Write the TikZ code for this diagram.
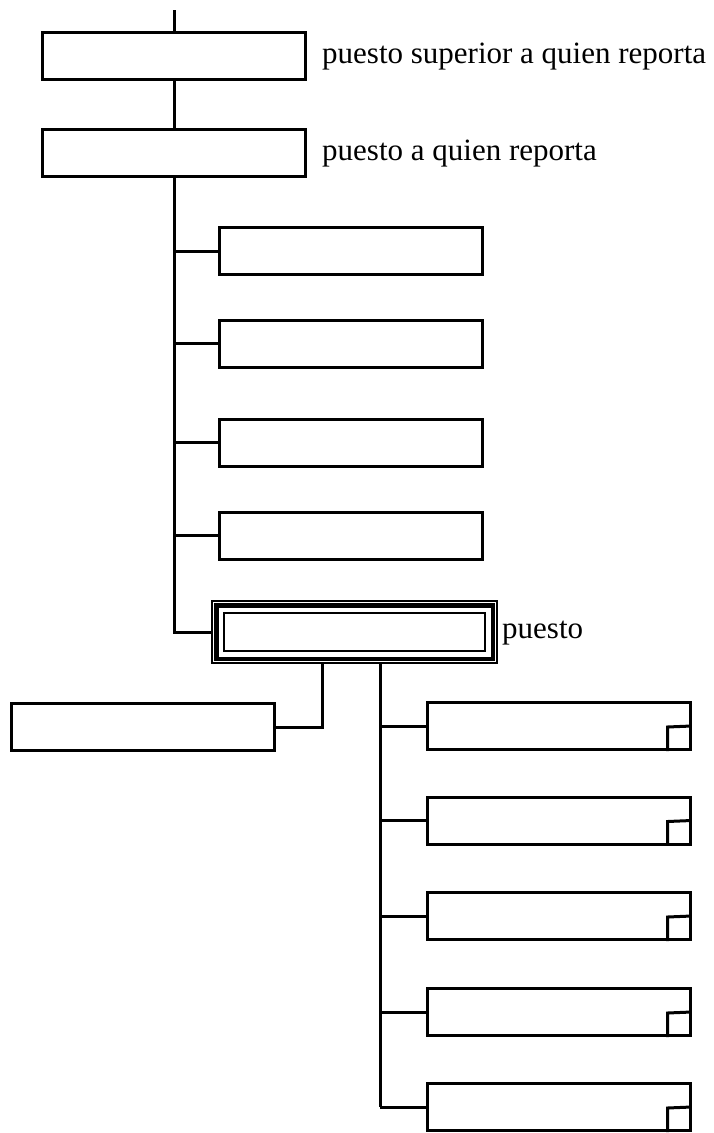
\documentclass[tikz,border=0pt]{standalone}
\usepackage{fontspec}
\setmainfont{Liberation Serif}
\tikzset{
  cargo/.style={draw, line width=3pt, minimum width=263pt, minimum height=47pt, inner sep=0pt},
  enlace/.style={line width=3pt},
  rotulo/.style={anchor=west, inner sep=0pt, font=\fontsize{31}{37}\selectfont}
}

\begin{document}
\begin{tikzpicture}[x=1pt, y=-1pt]
    \useasboundingbox (0,0) rectangle (713,1133);
    % cadena superior
    \coordinate (arriba) at (174,10);
    \node[cargo] (superior) at (174,55.5) {};
    \node[cargo] (jefe) at (174,152.5) {};
    \draw[enlace] (arriba) -- (superior.north);
    \draw[enlace] (superior.south) -- (jefe.north);
    \node[rotulo] (tsup) at (322,56.5) {puesto superior a quien reporta};
    \node[rotulo] (tjefe) at (322,153.5) {puesto a quien reporta};
    % puestos al mismo nivel
    \foreach \i/\y in {1/251, 2/343.5, 3/442.5, 4/535.5} {
        \node[cargo] (par\i) at (351,\y) {};
        \draw[enlace] (174,\y) -- (par\i.west);
    }
    % puesto descrito
    \node[draw, line width=1.5pt, minimum width=285pt, minimum height=62pt, inner sep=0pt] (puesto) at (354.5,632) {};
    \draw[line width=4.5pt] ([shift={(5pt,-5pt)}]puesto.north west) rectangle ([shift={(-5pt,5pt)}]puesto.south east);
    \draw[line width=2pt] ([shift={(12.5pt,-12.5pt)}]puesto.north west) rectangle ([shift={(-12.5pt,12.5pt)}]puesto.south east);
    \node[rotulo] (tpuesto) at (502,633) {puesto};
    \draw[enlace] (jefe.south) -- (174,632) -- (puesto.west);
    % asesor
    \node[cargo] (asesor) at (143,727) {};
    \draw[enlace] (puesto.south -| 322,0) |- (asesor.east);
    % subordinados
    \foreach \i/\y in {1/726, 2/820.5, 3/916, 4/1012, 5/1107} {
        \node[cargo] (sub\i) at (558.5,\y) {};
        \draw[enlace] (380,\y) -- (sub\i.west);
        \draw[enlace] ([xshift=-24pt]sub\i.south east) -- ++(0,-24) -- ++(24,-1);
    }
    \draw[enlace] (puesto.south -| 380,0) -- (380,1107);
\end{tikzpicture}
\end{document}
